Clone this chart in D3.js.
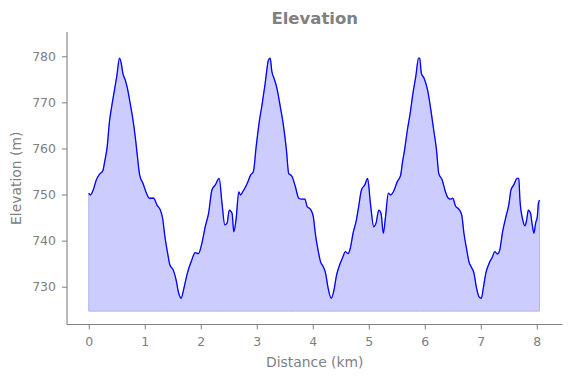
<!DOCTYPE html>
<html lang="en">
<head>
    <meta charset="utf-8">
    <title>Elevation</title>
    <script type="text/javascript" src="https://cdn.jsdelivr.net/npm/d3@7"></script>
    <style>
        body { margin: 0; background: #fff; }
        text { font-family: "DejaVu Sans", sans-serif; }
    </style>
</head>
<body>
<div id="chart"></div>
<script type="text/javascript">
    // distance along the route (km)
    var distanceKm = [
        0.00, 0.03, 0.08, 0.14, 0.20, 0.25, 0.29, 0.33, 0.37, 0.41, 0.45, 0.50, 0.55, 0.58, 0.61, 0.65,
        0.69, 0.74, 0.79, 0.83, 0.87, 0.91, 0.97, 1.03, 1.08, 1.16, 1.22, 1.28, 1.32, 1.36, 1.41, 1.45,
        1.51, 1.56, 1.60, 1.65, 1.70, 1.76, 1.84, 1.90, 1.96, 2.02, 2.08, 2.14, 2.20, 2.26, 2.33, 2.38,
        2.43, 2.47, 2.51, 2.56, 2.59, 2.63, 2.68, 2.71, 2.75, 2.83, 2.89, 2.94, 2.99, 3.05, 3.09, 3.15,
        3.21, 3.24, 3.27, 3.31, 3.36, 3.42, 3.48, 3.53, 3.57, 3.63, 3.69, 3.75, 3.81, 3.86, 3.90, 3.96,
        4.01, 4.05, 4.10, 4.14, 4.19, 4.23, 4.27, 4.33, 4.38, 4.42, 4.48, 4.54, 4.58, 4.63, 4.67, 4.72,
        4.78, 4.82, 4.87, 4.93, 4.98, 5.03, 5.09, 5.13, 5.18, 5.22, 5.26, 5.30, 5.35, 5.39, 5.44, 5.51,
        5.57, 5.60, 5.64, 5.69, 5.74, 5.79, 5.84, 5.89, 5.91, 5.94, 5.99, 6.05, 6.11, 6.16, 6.21, 6.25,
        6.31, 6.37, 6.42, 6.46, 6.50, 6.55, 6.61, 6.66, 6.70, 6.75, 6.79, 6.83, 6.88, 6.92, 6.97, 7.01,
        7.05, 7.09, 7.15, 7.21, 7.25, 7.30, 7.34, 7.39, 7.45, 7.50, 7.54, 7.59, 7.65, 7.68, 7.70, 7.75,
        7.79, 7.82, 7.85, 7.89, 7.92, 7.95, 7.98, 8.01, 8.03, 8.05
    ];
    // elevation at each point (m)
    var elevationM = [
        750.3, 749.9, 751.0, 753.3, 754.5, 755.1, 757.5, 760.4, 765.8, 769.1, 772.0, 775.6, 779.6, 778.5, 776.3, 774.9,
        773.1, 769.8, 766.2, 762.6, 758.2, 754.2, 752.4, 750.3, 749.2, 749.2, 747.7, 746.6, 744.8, 740.9, 737.2, 734.7,
        733.6, 731.5, 728.9, 727.5, 729.7, 732.9, 735.8, 737.4, 737.2, 739.4, 743.0, 745.9, 751.0, 752.1, 753.5, 748.1,
        743.4, 743.8, 746.6, 745.9, 741.9, 744.5, 750.6, 749.9, 750.6, 752.4, 754.2, 755.0, 760.4, 766.2, 769.1, 774.1,
        779.2, 779.6, 776.7, 775.2, 773.1, 769.1, 764.7, 759.7, 754.6, 753.9, 751.7, 749.2, 749.0, 749.0, 747.4, 746.8,
        745.2, 741.2, 737.6, 735.4, 734.3, 732.9, 730.0, 727.5, 729.3, 732.2, 734.7, 736.5, 737.6, 737.2, 738.3, 741.6,
        744.5, 747.4, 751.0, 752.1, 753.5, 748.1, 743.0, 743.8, 746.6, 745.9, 741.6, 745.2, 750.3, 749.9, 750.6, 752.8,
        754.2, 756.8, 759.7, 764.0, 767.6, 772.0, 775.6, 779.6, 779.6, 776.3, 775.2, 772.7, 768.3, 764.0, 759.7, 754.6,
        753.2, 750.6, 749.2, 749.0, 749.2, 747.5, 746.8, 745.6, 741.6, 738.0, 735.4, 734.3, 732.9, 730.0, 727.8, 727.5,
        730.0, 732.9, 735.1, 736.5, 737.6, 737.1, 738.0, 741.9, 745.2, 747.7, 751.0, 752.1, 753.5, 753.5, 748.8, 744.5,
        743.2, 744.5, 746.6, 745.9, 743.4, 741.6, 743.8, 745.2, 748.1, 748.8
    ];
    var fillBase = 724.7;
    var xTicks = [0, 1, 2, 3, 4, 5, 6, 7, 8];
    var yTicks = [730, 740, 750, 760, 770, 780];

    var w = 571;
    var h = 378;
    var padLeft = 67, padRight = 562.5, padTop = 32, padBottom = 324.5;
    var grey = "#808080";

    var points = distanceKm.map(function (d, i) {
        return {x: d, y: elevationM[i]};
    });

    var xScale = d3.scaleLinear()
        .domain([-0.388, 8.46])
        .range([padLeft, padRight]);

    var yScale = d3.scaleLinear()
        .domain([721.8, 785.27])
        .range([padBottom, padTop]);

    var svg = d3.select("#chart")
        .append("svg")
        .attr("width", w)
        .attr("height", h);

    var area = d3.area()
        .x(function (d) { return xScale(d.x); })
        .y0(yScale(fillBase))
        .y1(function (d) { return yScale(d.y); })
        .curve(d3.curveMonotoneX);

    var line = d3.line()
        .x(function (d) { return xScale(d.x); })
        .y(function (d) { return yScale(d.y); })
        .curve(d3.curveMonotoneX);

    svg.append("path")
        .datum(points)
        .attr("d", area)
        .attr("fill", "rgb(204,204,255)")
        .attr("stroke", "rgb(178,178,250)")
        .attr("stroke-width", 1);

    svg.append("path")
        .datum(points)
        .attr("d", line)
        .attr("fill", "none")
        .attr("stroke", "#0000ff")
        .attr("stroke-width", 1.3)
        .attr("stroke-linejoin", "round");

    var xAxis = d3.axisBottom(xScale)
        .tickValues(xTicks)
        .tickFormat(d3.format("d"))
        .tickSizeOuter(0)
        .tickSize(5)
        .tickPadding(8);

    var yAxis = d3.axisLeft(yScale)
        .tickValues(yTicks)
        .tickFormat(d3.format("d"))
        .tickSizeOuter(0)
        .tickSize(5)
        .tickPadding(6);

    var gx = svg.append("g")
        .attr("transform", "translate(0," + padBottom + ")")
        .call(xAxis);

    var gy = svg.append("g")
        .attr("transform", "translate(" + padLeft + ",0)")
        .call(yAxis);

    [gx, gy].forEach(function (g) {
        g.select(".domain").remove();
        g.selectAll(".tick line").attr("stroke", grey).attr("stroke-width", 1);
        g.selectAll(".tick text")
            .attr("fill", grey)
            .style("font-size", "12.5px")
            .style("font-family", "DejaVu Sans, sans-serif");
    });

    // spines: left and bottom only
    svg.append("line")
        .attr("x1", padLeft).attr("x2", padLeft)
        .attr("y1", padTop).attr("y2", padBottom)
        .attr("stroke", grey).attr("stroke-width", 1.1);
    svg.append("line")
        .attr("x1", padLeft).attr("x2", padRight)
        .attr("y1", padBottom).attr("y2", padBottom)
        .attr("stroke", grey).attr("stroke-width", 1.1);

    svg.append("text")
        .attr("x", (padLeft + padRight) / 2)
        .attr("y", 24)
        .attr("text-anchor", "middle")
        .attr("fill", grey)
        .style("font-size", "16.5px")
        .style("font-weight", "bold")
        .text("Elevation");

    svg.append("text")
        .attr("x", (padLeft + padRight) / 2)
        .attr("y", 367)
        .attr("text-anchor", "middle")
        .attr("fill", grey)
        .style("font-size", "13.9px")
        .text("Distance (km)");

    svg.append("text")
        .attr("text-anchor", "middle")
        .attr("transform", "translate(21," + ((padTop + padBottom) / 2) + ")rotate(-90)")
        .attr("fill", grey)
        .style("font-size", "13.9px")
        .text("Elevation (m)");
</script>
</body>
</html>
